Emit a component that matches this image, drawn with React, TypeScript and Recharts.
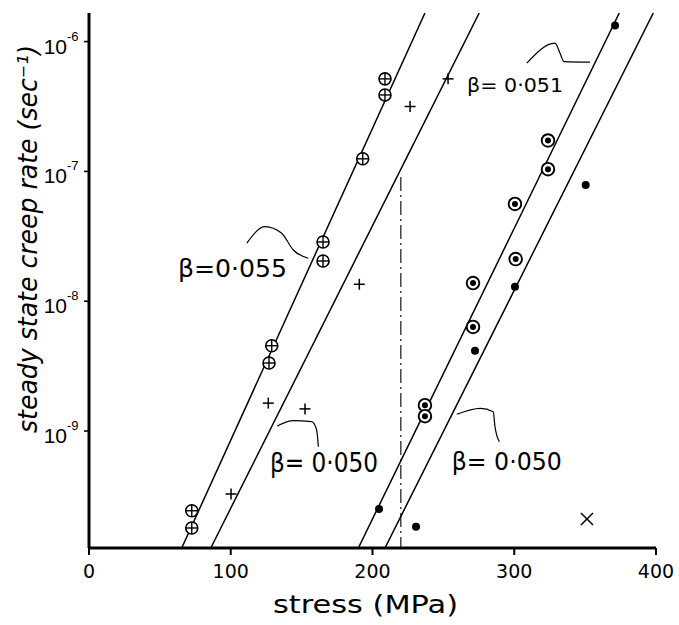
import React from 'react';
import { ComposedChart, XAxis, YAxis, Scatter, Line, ReferenceDot } from 'recharts';

// ---- axis ranges & ticks ----
const Y_MIN = 1.255e-10;
const Y_MAX = 1.66e-6;
const X_TICKS = [0, 100, 200, 300, 400];
const Y_TICKS = [1e-9, 1e-8, 1e-7, 1e-6];
const Y_TICK_EXP = ['-9', '-8', '-7', '-6'];

// ---- data series (stress MPa, creep rate 1/s) ----
const crossedStress = [72.5, 72.5, 127.0, 128.9, 165.1, 165.1, 193.1, 208.8, 208.8];
const crossedRate = [2.43e-10, 1.79e-10, 3.34e-9, 4.54e-9, 2.04e-8, 2.86e-8, 1.25e-7, 3.88e-7, 5.16e-7];

const plusStress = [100.2, 126.5, 152.4, 190.7, 226.5, 253.3];
const plusRate = [3.27e-10, 1.64e-9, 1.48e-9, 1.35e-8, 3.16e-7, 5.16e-7];

const ringStress = [237.0, 237.0, 270.9, 270.9, 301.0, 300.5, 323.8, 323.8];
const ringRate = [1.58e-9, 1.3e-9, 1.38e-8, 6.34e-9, 2.11e-8, 5.61e-8, 1.04e-7, 1.73e-7];

const dotStress = [204.6, 230.7, 272.3, 300.5, 350.4, 371.1];
const dotRate = [2.51e-10, 1.83e-10, 4.16e-9, 1.29e-8, 7.87e-8, 1.33e-6];

const xMarkStress = [351.3];
const xMarkRate = [2.1e-10];

// ---- fitted lines: stress where each meets the bottom / top of the plot ----
const fitStressAtMin = [65.4, 85.9, 190.0, 208.8];
const fitStressAtMax = [237.0, 275.3, 374.1, 398.1];

// ---- dash-dot divider ----
const dividerStress = [220, 220];
const dividerRate = [9.06e-8, Y_MIN];

// ---- beta annotations ----
const labelText = ['β=0·055', 'β= 0·051', 'β= 0·050', 'β= 0·050'];
const labelStress = [62.8, 266.7, 127.7, 255.9];
const labelRate = [1.54e-8, 4.12e-7, 4.85e-10, 5.0e-10];

// leader squiggles
const leaderStress = [
  [111.3, 124.2, 135.9, 144.1, 154.7],
  [308.8, 328.7, 332.3, 335.1, 353.4],
  [132.8, 144.1, 157.1, 160.6, 161.8],
  [259.4, 276.1, 285.2, 286.4, 289.5],
];
const leaderRate = [
  [2.796e-8, 3.753e-8, 3.338e-8, 2.481e-8, 2.142e-8],
  [6.82e-7, 9.72e-7, 8.14e-7, 7.01e-7, 6.94e-7],
  [1.093e-9, 1.201e-9, 1.179e-9, 1.018e-9, 7.57e-10],
  [1.345e-9, 1.496e-9, 1.409e-9, 1.079e-9, 8.27e-10],
];

// ---- styles (not data) ----
const HAND = "'DejaVu Sans', 'Noto Sans', sans-serif";
const HELV = "'Liberation Sans', Arial, sans-serif";
const LABEL_SIZE = [25, 20, 27, 24];
const LABEL_LEN = [109, 96, 108, 110];

const zip = (xs: number[], ys: number[]) => xs.map((x, i) => ({ x, y: ys[i] }));

const crossedData = zip(crossedStress, crossedRate);
const plusData = zip(plusStress, plusRate);
const ringData = zip(ringStress, ringRate);
const dotData = zip(dotStress, dotRate);
const xMarkData = zip(xMarkStress, xMarkRate);

function CrossedCircle(p: any) {
  const { cx, cy } = p;
  if (cx == null || cy == null) return <g />;
  const r = 6;
  return (
    <g>
      <circle cx={cx} cy={cy} r={r} fill="#fff" stroke="#000" strokeWidth={1.6} />
      <line x1={cx - r} y1={cy} x2={cx + r} y2={cy} stroke="#000" strokeWidth={1.4} />
      <line x1={cx} y1={cy - r} x2={cx} y2={cy + r} stroke="#000" strokeWidth={1.4} />
    </g>
  );
}

function PlusMark(p: any) {
  const { cx, cy } = p;
  if (cx == null || cy == null) return <g />;
  const a = 5.5;
  return (
    <g>
      <line x1={cx - a} y1={cy} x2={cx + a} y2={cy} stroke="#000" strokeWidth={1.5} />
      <line x1={cx} y1={cy - a} x2={cx} y2={cy + a} stroke="#000" strokeWidth={1.5} />
    </g>
  );
}

function RingDot(p: any) {
  const { cx, cy } = p;
  if (cx == null || cy == null) return <g />;
  return (
    <g>
      <circle cx={cx} cy={cy} r={6.3} fill="#fff" stroke="#000" strokeWidth={1.9} />
      <circle cx={cx} cy={cy} r={3} fill="#000" />
    </g>
  );
}

function FilledDot(p: any) {
  const { cx, cy } = p;
  if (cx == null || cy == null) return <g />;
  return <circle cx={cx} cy={cy} r={4} fill="#000" />;
}

function XMark(p: any) {
  const { cx, cy } = p;
  if (cx == null || cy == null) return <g />;
  const a = 6;
  return (
    <g>
      <line x1={cx - a} y1={cy - a} x2={cx + a} y2={cy + a} stroke="#000" strokeWidth={1.5} />
      <line x1={cx - a} y1={cy + a} x2={cx + a} y2={cy - a} stroke="#000" strokeWidth={1.5} />
    </g>
  );
}

function XTick(p: any) {
  const { x, y, payload } = p;
  return (
    <text x={x} y={y + 21} textAnchor="middle" fontFamily={HAND} fontSize={19} fill="#000">
      {payload.value}
    </text>
  );
}

function YTick(p: any) {
  const { x, y, payload } = p;
  const idx = Y_TICKS.indexOf(payload.value);
  return (
    <g>
      <text x={x - 15} y={y + 12} textAnchor="end" fontFamily={HELV} fontSize={21} fill="#000">
        10
      </text>
      <text x={x - 15} y={y - 1} textAnchor="start" fontFamily={HELV} fontSize={13} fill="#000">
        {idx >= 0 ? Y_TICK_EXP[idx] : ''}
      </text>
    </g>
  );
}

function YLabel(p: any) {
  const vb = p.viewBox || { x: 0, y: 13 };
  const cx = vb.x + 37;
  const cy = vb.y + 226;
  return (
    <text
      x={cx}
      y={cy}
      transform={`rotate(-90 ${cx} ${cy})`}
      textAnchor="middle"
      fontFamily={HAND}
      fontStyle="italic"
      fontSize={27}
      textLength={388}
      lengthAdjust="spacingAndGlyphs"
      fill="#000"
    >
      steady state creep rate (sec⁻¹)
    </text>
  );
}

function XLabel(p: any) {
  const vb = p.viewBox || { x: 89, y: 548 };
  return (
    <text
      x={vb.x + 276.5}
      y={vb.y + 65}
      textAnchor="middle"
      fontFamily={HAND}
      fontSize={25}
      textLength={185}
      lengthAdjust="spacingAndGlyphs"
      fill="#000"
    >
      stress (MPa)
    </text>
  );
}

function makeLabelShape(i: number) {
  return (p: any) => {
    const { cx, cy } = p;
    if (cx == null || cy == null) return <g />;
    return (
      <text
        x={cx}
        y={cy}
        fontFamily={HAND}
        fontSize={LABEL_SIZE[i]}
        textLength={LABEL_LEN[i]}
        lengthAdjust="spacingAndGlyphs"
        fill="#000"
      >
        {labelText[i]}
      </text>
    );
  };
}

export default function App() {
  return (
    <div style={{ position: 'absolute', left: 0, top: 0, width: 679, height: 625, background: '#fff' }}>
      <ComposedChart width={679} height={625} margin={{ top: 13, right: 23, bottom: 0, left: 0 }}>
        <XAxis
          xAxisId={0}
          dataKey="x"
          type="number"
          domain={[0, 400]}
          ticks={X_TICKS}
          allowDataOverflow
          height={77}
          tickSize={7}
          tickMargin={2}
          axisLine={{ stroke: '#000', strokeWidth: 3 }}
          tickLine={{ stroke: '#000', strokeWidth: 2 }}
          tick={<XTick />}
          label={<XLabel />}
        />
        <XAxis
          xAxisId="top"
          orientation="top"
          type="number"
          domain={[0, 1]}
          height={0}
          tick={false}
          tickLine={false}
          axisLine={{ stroke: '#000', strokeWidth: 2.2 }}
        />
        <YAxis
          yAxisId={0}
          type="number"
          scale="log"
          domain={[Y_MIN, Y_MAX]}
          ticks={Y_TICKS}
          allowDataOverflow
          width={89}
          tickSize={5}
          tickMargin={2}
          axisLine={{ stroke: '#000', strokeWidth: 3 }}
          tickLine={{ stroke: '#000', strokeWidth: 1.6 }}
          tick={<YTick />}
          label={<YLabel />}
        />
        <YAxis
          yAxisId="right"
          orientation="right"
          type="number"
          domain={[0, 1]}
          width={0}
          tick={false}
          tickLine={false}
          axisLine={{ stroke: '#000', strokeWidth: 2.2 }}
        />

        {fitStressAtMin.map((s, i) => (
          <Line
            key={`fit${i}`}
            data={[{ x: s, y: Y_MIN }, { x: fitStressAtMax[i], y: Y_MAX }]}
            dataKey="y"
            type="linear"
            stroke="#000"
            strokeWidth={1.5}
            dot={false}
            activeDot={false}
            isAnimationActive={false}
          />
        ))}

        <Line
          data={zip(dividerStress, dividerRate)}
          dataKey="y"
          type="linear"
          stroke="#000"
          strokeWidth={1.1}
          strokeDasharray="14 4 2 4"
          dot={false}
          activeDot={false}
          isAnimationActive={false}
        />

        {leaderStress.map((xs, i) => (
          <Line
            key={`lead${i}`}
            data={zip(xs, leaderRate[i])}
            dataKey="y"
            type="monotoneX"
            stroke="#000"
            strokeWidth={1.2}
            dot={false}
            activeDot={false}
            isAnimationActive={false}
          />
        ))}

        <Scatter data={crossedData} dataKey="y" shape={<CrossedCircle />} isAnimationActive={false} />
        <Scatter data={plusData} dataKey="y" shape={<PlusMark />} isAnimationActive={false} />
        <Scatter data={ringData} dataKey="y" shape={<RingDot />} isAnimationActive={false} />
        <Scatter data={dotData} dataKey="y" shape={<FilledDot />} isAnimationActive={false} />
        <Scatter data={xMarkData} dataKey="y" shape={<XMark />} isAnimationActive={false} />

        {labelText.map((_, i) => (
          <ReferenceDot
            key={`lab${i}`}
            x={labelStress[i]}
            y={labelRate[i]}
            r={0}
            shape={makeLabelShape(i)}
          />
        ))}
      </ComposedChart>
    </div>
  );
}
